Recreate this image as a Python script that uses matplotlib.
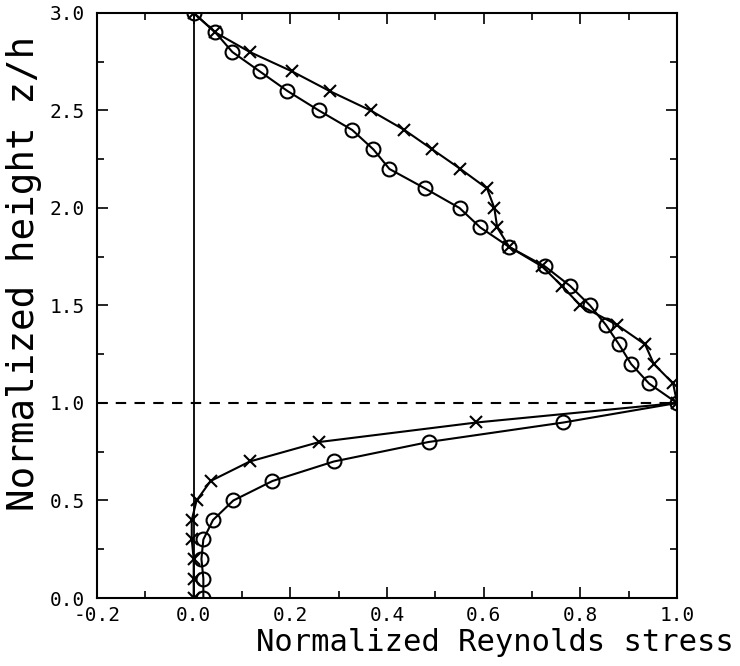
import matplotlib
matplotlib.use('Agg')
import matplotlib.pyplot as plt
from matplotlib.ticker import MultipleLocator

# normalized height z/h
z = [0.0, 0.1, 0.2, 0.3, 0.4, 0.5, 0.6, 0.7, 0.8, 0.9, 1.0,
     1.1, 1.2, 1.3, 1.4, 1.5, 1.6, 1.7, 1.8, 1.9, 2.0,
     2.1, 2.2, 2.3, 2.4, 2.5, 2.6, 2.7, 2.8, 2.9, 3.0]

# circles
stress_o = [0.02, 0.02, 0.016, 0.02, 0.04, 0.082, 0.163, 0.29, 0.486, 0.765, 1.0,
            0.942, 0.905, 0.88, 0.853, 0.82, 0.779, 0.727, 0.653, 0.593, 0.55,
            0.479, 0.405, 0.372, 0.328, 0.259, 0.194, 0.137, 0.08, 0.045, 0.0]

# crosses
stress_x = [0.0, 0.0, 0.0, -0.004, -0.004, 0.006, 0.035, 0.116, 0.26, 0.585, 1.0,
            0.992, 0.952, 0.934, 0.876, 0.80, 0.762, 0.721, 0.653, 0.628, 0.622,
            0.607, 0.552, 0.494, 0.436, 0.366, 0.281, 0.204, 0.116, 0.045, 0.0]

font = 'DejaVu Sans Mono'
plt.rcParams['font.family'] = [font]
plt.rcParams['axes.unicode_minus'] = False

fig = plt.figure(figsize=(7.4, 6.66), dpi=100)
ax = fig.add_axes([0.1311, 0.1021, 0.7838, 0.8784])

ax.plot([0, 0], [0, 3], color='black', lw=1.3)
ax.plot([-0.2, 1.0], [1, 1], color='black', lw=1.5, ls=(0, (5, 4)))

ax.plot(stress_o, z, color='black', lw=1.5, marker='o', ms=10,
        mfc='none', mec='black', mew=1.5)
ax.plot(stress_x, z, color='black', lw=1.5, marker='x', ms=8,
        mec='black', mew=1.5)

ax.set_xlim(-0.2, 1.0)
ax.set_ylim(0, 3)
ax.xaxis.set_major_locator(MultipleLocator(0.2))
ax.xaxis.set_minor_locator(MultipleLocator(0.1))
ax.yaxis.set_major_locator(MultipleLocator(0.5))
ax.yaxis.set_minor_locator(MultipleLocator(0.25))
ax.tick_params(which='both', direction='in', top=True, right=True, width=1.2)
ax.tick_params(which='major', length=8)
ax.tick_params(which='minor', length=5)
ax.tick_params(axis='x', labelsize=14, pad=6)
ax.tick_params(axis='y', labelsize=14, pad=9)
for sp in ax.spines.values():
    sp.set_linewidth(1.5)

fig.text(0.669, 0.035, 'Normalized Reynolds stress', fontsize=22,
         ha='center', va='center')
fig.text(0.032, 0.589, 'Normalized height z/h', fontsize=27,
         ha='center', va='center', rotation=90)

plt.savefig('out.png', dpi=100)
